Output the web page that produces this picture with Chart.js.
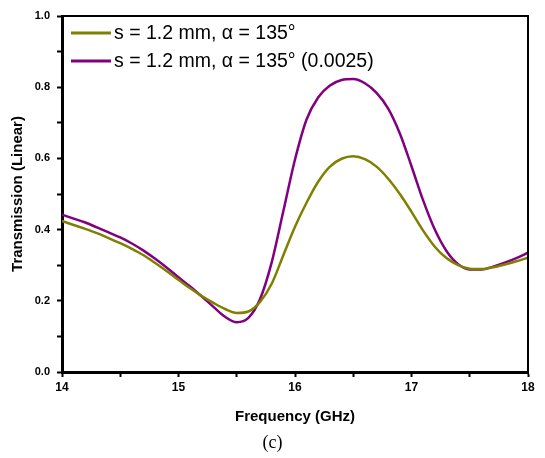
<!DOCTYPE html>
<html>
<head>
<meta charset="utf-8">
<script src="https://cdn.jsdelivr.net/npm/chart.js@4.4.0/dist/chart.umd.min.js"></script>
<style>
  html, body { margin: 0; padding: 0; background: #fff; }
  #wrap { width: 545px; height: 458px; position: relative; }
</style>
</head>
<body>
<div id="wrap"><canvas id="chart"></canvas></div>
<script>
// frequencies (GHz), 0.1 step
const freqs = [14.0,14.1,14.2,14.3,14.4,14.5,14.6,14.7,14.8,14.9,
  15.0,15.1,15.2,15.3,15.4,15.5,15.6,15.7,15.8,15.9,
  16.0,16.1,16.2,16.3,16.4,16.5,16.6,16.7,16.8,16.9,
  17.0,17.1,17.2,17.3,17.4,17.5,17.6,17.7,17.8,17.9,18.0];

// s = 1.2 mm, alpha = 135
const olive = [0.424,0.413,0.402,0.390,0.376,0.362,0.346,0.328,0.306,0.283,
  0.259,0.235,0.213,0.194,0.177,0.166,0.170,0.197,0.248,0.328,
  0.408,0.476,0.535,0.577,0.599,0.606,0.598,0.577,0.543,0.500,
  0.450,0.397,0.352,0.320,0.300,0.290,0.289,0.294,0.302,0.311,0.321];

// s = 1.2 mm, alpha = 135 (0.0025)
const purple = [0.442,0.431,0.420,0.406,0.392,0.378,0.361,0.341,0.318,0.293,
  0.266,0.240,0.212,0.183,0.155,0.140,0.152,0.205,0.308,0.452,
  0.597,0.710,0.772,0.805,0.820,0.823,0.811,0.784,0.740,0.670,
  0.578,0.482,0.400,0.340,0.303,0.288,0.288,0.296,0.307,0.320,0.335];

const seriesLabels = ['s = 1.2 mm, \u03B1 = 135\u00B0', 's = 1.2 mm, \u03B1 = 135\u00B0 (0.0025)'];
const seriesColors = ['#808000', '#800080'];
const xTicks = [14, 15, 16, 17, 18];
const yTicks = [0.0, 0.2, 0.4, 0.6, 0.8, 1.0];

const sans = "'Liberation Sans', Arial, sans-serif";

// frame on top/right, legend inside the box, "(c)" under the chart
const extras = {
  id: 'extras',
  afterDraw(chart) {
    const ctx = chart.ctx;
    const a = chart.chartArea;
    ctx.save();
    ctx.strokeStyle = '#000';
    ctx.lineWidth = 2;
    ctx.beginPath();
    ctx.moveTo(a.left, a.top);
    ctx.lineTo(a.right, a.top);
    ctx.lineTo(a.right, a.bottom);
    ctx.stroke();

    ctx.font = '19.5px ' + sans;
    ctx.textBaseline = 'middle';
    chart.data.datasets.forEach((ds, i) => {
      const y = a.top + 17 + i * 28;
      ctx.strokeStyle = ds.borderColor;
      ctx.lineWidth = 3;
      ctx.beginPath();
      ctx.moveTo(a.left + 9, y);
      ctx.lineTo(a.left + 49, y);
      ctx.stroke();
      ctx.fillStyle = '#000';
      ctx.fillText(ds.label, a.left + 52, y + 1);
    });

    ctx.font = "18px 'Liberation Serif', 'Times New Roman', serif";
    ctx.textAlign = 'center';
    ctx.fillText('(c)', chart.width / 2, 443);
    ctx.restore();
  }
};

new Chart(document.getElementById('chart'), {
  type: 'line',
  data: {
    labels: freqs,
    datasets: [olive, purple].map((vals, i) => ({
      label: seriesLabels[i],
      data: freqs.map((f, j) => ({ x: f, y: vals[j] })),
      borderColor: seriesColors[i],
      borderWidth: 2.5,
      pointRadius: 0,
      fill: false,
      cubicInterpolationMode: 'monotone'
    }))
  },
  options: {
    responsive: true,
    maintainAspectRatio: false,
    animation: false,
    layout: { padding: { left: 0, right: 17, top: 16, bottom: 0 } },
    plugins: {
      legend: { display: false },
      tooltip: { enabled: false }
    },
    scales: {
      x: {
        type: 'linear',
        min: 14, max: 18,
        afterFit: s => { s.height = 86; },
        ticks: {
          stepSize: 0.5,
          autoSkip: false,
          padding: 3,
          color: '#000',
          font: { family: sans, size: 12, weight: 'bold' },
          callback: v => xTicks.includes(v) ? String(v) : ''
        },
        grid: { drawOnChartArea: false, tickLength: 5, tickWidth: 2, tickColor: '#000' },
        border: { color: '#000', width: 3 },
        title: {
          display: true,
          text: 'Frequency (GHz)',
          color: '#000',
          font: { family: sans, size: 15, weight: 'bold' },
          padding: { top: 0, bottom: 32 }
        }
      },
      y: {
        min: 0, max: 1,
        afterFit: s => { s.width = 62; },
        ticks: {
          stepSize: 0.1,
          autoSkip: false,
          padding: 7,
          color: '#000',
          font: { family: sans, size: 11, weight: 'bold' },
          callback: v => {
            const r = Math.round(v * 10) / 10;
            return yTicks.some(t => Math.abs(t - r) < 1e-9) && Math.abs(v - r) < 1e-9 ? r.toFixed(1) : '';
          }
        },
        grid: { drawOnChartArea: false, tickLength: 5, tickWidth: 2, tickColor: '#000' },
        border: { color: '#000', width: 3 },
        title: {
          display: true,
          text: 'Transmission (Linear)',
          color: '#000',
          font: { family: sans, size: 15, weight: 'bold' },
          padding: { top: 9, bottom: 0 }
        }
      }
    }
  },
  plugins: [extras]
});
</script>
</body>
</html>
